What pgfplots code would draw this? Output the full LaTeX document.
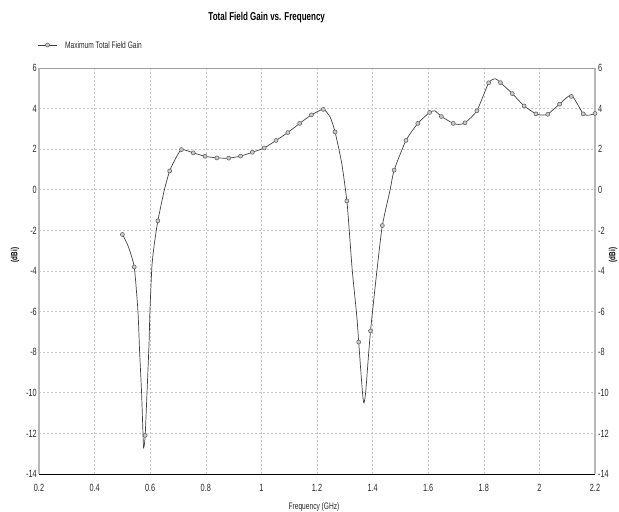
\documentclass[border=0pt]{standalone}
\usepackage{fontspec}
\setmainfont{Liberation Sans}[FakeStretch=0.7]
\usepackage{pgfplots}
\pgfplotsset{compat=1.18}
\begin{document}
\begin{tikzpicture}
\useasboundingbox (-39bp,-38bp) rectangle (580bp,474bp);
\begin{axis}[
  at={(0,0)}, anchor=south west,
  scale only axis, width=556bp, height=406bp,
  xmin=0.2, xmax=2.2, ymin=-14, ymax=6,
  xtick={0.2,0.4,...,2.2}, ytick={-14,-12,...,6},
  /pgf/number format/assume math mode=true,
  xticklabel style={font=\fontsize{10.5}{12}\selectfont, text=black!85, anchor=north, inner sep=0pt, yshift=-10bp},
  yticklabel style={font=\fontsize{10.5}{12}\selectfont, text=black!85, anchor=east, inner sep=0pt, xshift=-2bp},
  major tick length=0pt,
  grid=major,
  major grid style={gray!45, dash pattern=on 2bp off 2bp, line width=0.6bp},
  axis line style={draw=none},
  clip=false,
  yticklabel pos=left,
]
\draw[gray!55, line width=1.6bp] (rel axis cs:0,0) -- (rel axis cs:0,1);
\draw[gray!55, line width=1.6bp] (rel axis cs:1,0) -- (rel axis cs:1,1);
\draw[gray!75, line width=0.9bp] (rel axis cs:0,1) -- (rel axis cs:1,1);
\draw[black, line width=1bp] (rel axis cs:0,0) -- (rel axis cs:1,0);
% curve
\addplot[black!75, line width=0.7bp, smooth, tension=0.35, mark=none] coordinates {
(0.5,-2.2) (0.52,-2.75) (0.5425,-3.8) (0.556,-6) (0.562,-8) (0.569,-10) (0.574,-12)
(0.576,-12.7) (0.579,-12.55) (0.582,-12.1) (0.587,-10.5) (0.591,-9.2) (0.596,-7.5) (0.599,-6)
(0.606,-3.8) (0.614,-2.75) (0.6275,-1.53) (0.651,0) (0.67,0.93) (0.689,1.48) (0.7125,1.98)
(0.755,1.82) (0.7975,1.65) (0.84,1.57) (0.8825,1.56) (0.925,1.66) (0.9675,1.85)
(1.01,2.06) (1.0525,2.43) (1.095,2.82) (1.1375,3.27) (1.18,3.69) (1.2225,3.96)
(1.247,3.59) (1.265,2.85) (1.289,1.3) (1.3075,-0.55) (1.316,-2) (1.327,-4) (1.343,-6.2)
(1.35,-7.5) (1.358,-9.0) (1.365,-10.2) (1.369,-10.5) (1.375,-10.0) (1.385,-8.2)
(1.3925,-6.95) (1.402,-5.7) (1.417,-3.8) (1.435,-1.76) (1.463,0) (1.4775,0.97)
(1.52,2.43) (1.5625,3.27) (1.605,3.81) (1.624,3.89) (1.6475,3.61) (1.69,3.27) (1.71,3.22)
(1.7325,3.3) (1.775,3.89) (1.8175,5.27) (1.842,5.47) (1.86,5.28) (1.9025,4.74)
(1.945,4.13) (1.9875,3.74) (2.01,3.68) (2.03,3.72) (2.0725,4.22) (2.115,4.66)
(2.1575,3.74) (2.18,3.68) (2.2,3.76)
};
% markers
\addplot[only marks, mark=*, mark size=2bp, mark options={draw=black!60, fill=gray!40, line width=0.6bp}] coordinates {
(0.5,-2.2) (0.5425,-3.8) (0.582,-12.1) (0.6275,-1.53) (0.67,0.93) (0.7125,1.98)
(0.755,1.82) (0.7975,1.65) (0.84,1.57) (0.8825,1.56) (0.925,1.66) (0.9675,1.85)
(1.01,2.06) (1.0525,2.43) (1.095,2.82) (1.1375,3.27) (1.18,3.69) (1.2225,3.96)
(1.265,2.85) (1.3075,-0.55) (1.35,-7.5) (1.3925,-6.95) (1.435,-1.76) (1.4775,0.97)
(1.52,2.43) (1.5625,3.27) (1.605,3.81) (1.6475,3.61) (1.69,3.27) (1.7325,3.3)
(1.775,3.89) (1.8175,5.27) (1.86,5.28) (1.9025,4.74) (1.945,4.13) (1.9875,3.74)
(2.03,3.72) (2.0725,4.22) (2.115,4.6) (2.1575,3.74) (2.2,3.76)
};
\end{axis}
\begin{axis}[
  at={(0,0)}, anchor=south west,
  scale only axis, width=556bp, height=406bp,
  xmin=0.2, xmax=2.2, ymin=-14, ymax=6,
  ytick={-14,-12,...,6},
  /pgf/number format/assume math mode=true,
  hide x axis, axis y line*=right, axis line style={draw=none},
  major tick length=0pt,
  yticklabel style={font=\fontsize{10.5}{12}\selectfont, text=black!85, anchor=west, inner sep=0pt, xshift=3bp},
]
\addplot[draw=none] coordinates {(1,0)};
\end{axis}
% texts
\node[font=\bfseries\fontsize{11.5}{13}\selectfont] at (227.7bp,456bp) {Total Field Gain vs. Frequency};
\draw[black!75, line width=0.7bp] (-1bp,429bp) -- (18bp,429bp);
\draw[black!60, fill=gray!40, line width=0.6bp] (8.5bp,429bp) circle (2bp);
\node[font=\fontsize{9.5}{11}\selectfont, anchor=west, inner sep=0pt, text=black!85] at (26bp,429bp) {Maximum Total Field Gain};
\node[font=\fontsize{9.5}{11}\selectfont, text=black!85] at (275bp,-33bp) {Frequency (GHz)};
\node[font=\bfseries\fontsize{9}{11}\selectfont, rotate=90] at (-24bp,219bp) {(dBi)};
\node[font=\bfseries\fontsize{9}{11}\selectfont, rotate=90] at (574bp,219bp) {(dBi)};
\end{tikzpicture}
\end{document}
